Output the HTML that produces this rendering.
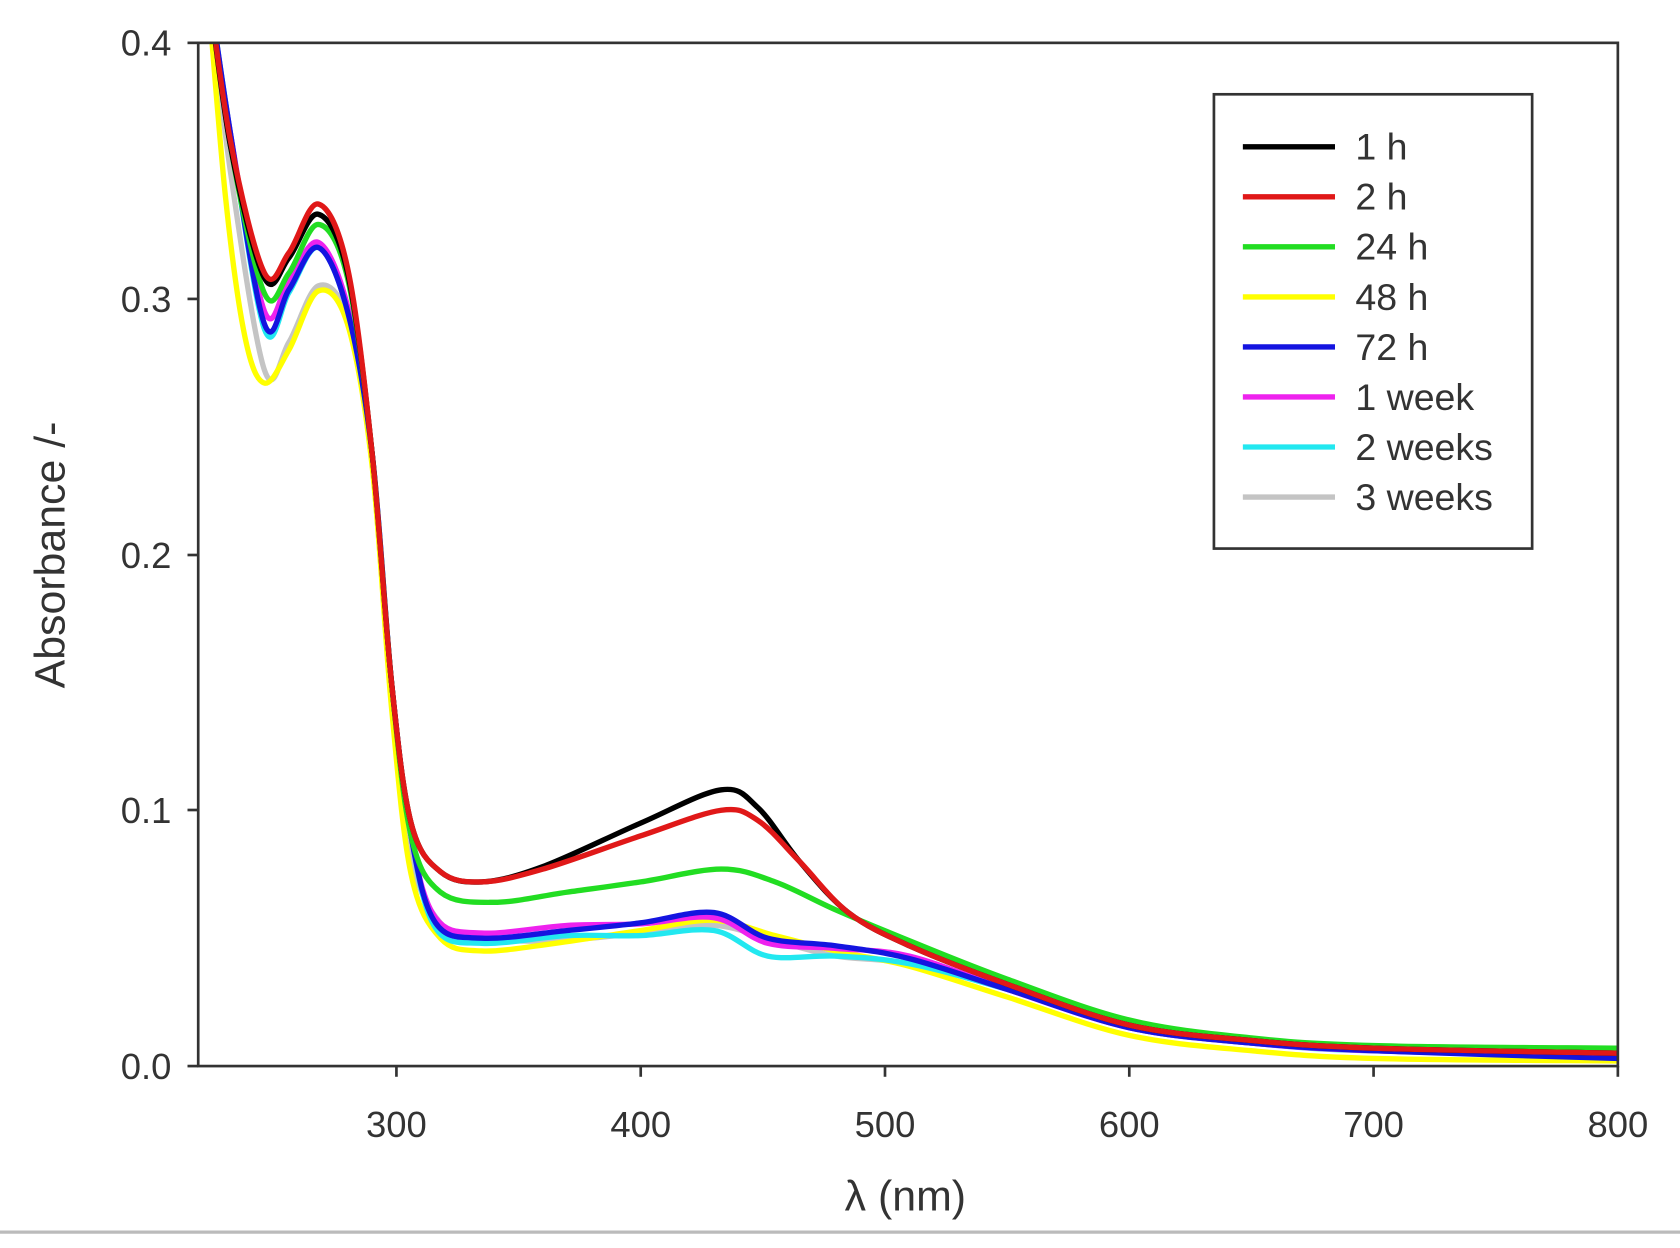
<!DOCTYPE html>
<html><head><meta charset="utf-8"><style>html,body{margin:0;padding:0;background:#fff}svg{display:block}</style></head>
<body>
<svg id="s" width="1680" height="1248" viewBox="0 0 1568 1164.8" preserveAspectRatio="none" xmlns="http://www.w3.org/2000/svg" font-family="Liberation Sans, sans-serif">
<rect width="1568" height="1165" fill="#fff"/>
<g id="curves" fill="none" stroke-width="5" stroke-linejoin="round" stroke-linecap="round"></g>
<rect x="185" y="40" width="1325" height="955" fill="none" stroke="#333" stroke-width="2.5"/>
<g stroke="#333" stroke-width="2.5">
<line x1="175" y1="40" x2="185" y2="40"/><line x1="175" y1="279" x2="185" y2="279"/><line x1="175" y1="518" x2="185" y2="518"/><line x1="175" y1="756" x2="185" y2="756"/><line x1="175" y1="995" x2="185" y2="995"/>
<line x1="370" y1="995" x2="370" y2="1005"/><line x1="598" y1="995" x2="598" y2="1005"/><line x1="826" y1="995" x2="826" y2="1005"/><line x1="1054" y1="995" x2="1054" y2="1005"/><line x1="1282" y1="995" x2="1282" y2="1005"/><line x1="1510" y1="995" x2="1510" y2="1005"/>
</g>
<g font-size="34" fill="#333" text-anchor="end">
<text x="160" y="52">0.4</text><text x="160" y="291">0.3</text><text x="160" y="530">0.2</text><text x="160" y="768">0.1</text><text x="160" y="1007">0.0</text>
</g>
<g font-size="34" fill="#333" text-anchor="middle">
<text x="370" y="1061">300</text><text x="598" y="1061">400</text><text x="826" y="1061">500</text><text x="1054" y="1061">600</text><text x="1282" y="1061">700</text><text x="1510" y="1061">800</text>
<text x="845" y="1130" font-size="40">λ (nm)</text>
<text transform="translate(60,518) rotate(-90)" font-size="40">Absorbance /-</text>
</g>
<line x1="0" y1="1150" x2="1568" y2="1150" stroke="#bbb" stroke-width="3"/>
<rect x="1133" y="88" width="297" height="424" fill="#fff" stroke="#333" stroke-width="2.5"/>
<g id="leg" font-size="35" fill="#333"></g>
</svg>
<script>
var X=n=>370+(n-300)*2.28, Y=a=>995-a*2387.5;
function mk(min,pk,v,p,p480,p510,tailEnd){
 return [[222,0.43],[232,0.365],[246,min],[256,min+(pk-min)*0.45],[268,pk],[280,pk-0.025],[290,0.24],[298,0.15],[306,0.09],[316,v+0.006],[335,v],[370,v+0.003],[400,v+(p-v)*0.6],[430,p],[452,p-0.01],[480,p480],[510,p510],[550,0.03],[600,0.015],[650,0.009],[700,0.006],[800,tailEnd]];
}
var S=[
["#000",[[222,0.43],[232,0.36],[246,0.308],[256,0.316],[268,0.333],[280,0.31],[290,0.24],[298,0.15],[306,0.095],[318,0.076],[335,0.072],[360,0.078],[400,0.095],[433,0.108],[448,0.101],[465,0.08],[485,0.06],[510,0.047],[550,0.032],[600,0.016],[650,0.01],[700,0.007],[800,0.005]]],
["#e01818",[[222,0.43],[232,0.362],[246,0.31],[256,0.318],[268,0.337],[280,0.312],[290,0.24],[298,0.15],[306,0.095],[318,0.076],[335,0.072],[360,0.077],[400,0.09],[433,0.100],[448,0.096],[465,0.08],[485,0.06],[510,0.047],[550,0.032],[600,0.016],[650,0.01],[700,0.007],[800,0.005]]],
["#22dd22",[[222,0.43],[232,0.36],[246,0.302],[256,0.31],[268,0.329],[280,0.308],[290,0.24],[298,0.15],[306,0.09],[318,0.068],[340,0.064],[370,0.068],[400,0.072],[433,0.077],[455,0.072],[480,0.061],[510,0.049],[550,0.034],[600,0.018],[650,0.011],[700,0.008],[800,0.007]]],
["#ffff00",[[222,0.43],[230,0.34],[238,0.285],[246,0.267],[256,0.28],[268,0.303],[280,0.29],[290,0.235],[298,0.14],[306,0.075],[318,0.05],[335,0.045],[365,0.048],[400,0.053],[430,0.057],[455,0.051],[480,0.045],[510,0.039],[550,0.027],[600,0.012],[650,0.006],[700,0.003],[800,0.002]]],
["#1414e0",mk(0.29,0.32,0.05,0.06,0.047,0.042,0.003)],
["#ee22ee",mk(0.295,0.322,0.052,0.058,0.046,0.043,0.004)],
["#22e8f0",mk(0.288,0.32,0.048,0.053,0.043,0.04,0.006)],
["#c4c4c4",[[222,0.43],[232,0.35],[246,0.272],[256,0.283],[268,0.305],[280,0.292],[290,0.236],[298,0.145],[306,0.082],[318,0.056],[335,0.05],[365,0.049],[400,0.052],[430,0.055],[455,0.049],[480,0.043],[510,0.04],[550,0.03],[600,0.015],[650,0.009],[700,0.007],[800,0.006]]]
];
function path(pts){
 var P=pts.map(p=>[X(p[0]),Y(p[1])]),d="M"+P[0][0]+","+P[0][1];
 for(var i=0;i<P.length-1;i++){var p0=P[i-1]||P[i],p1=P[i],p2=P[i+1],p3=P[i+2]||p2;
 d+=" C"+(p1[0]+(p2[0]-p0[0])/6)+","+(p1[1]+(p2[1]-p0[1])/6)+" "+(p2[0]-(p3[0]-p1[0])/6)+","+(p2[1]-(p3[1]-p1[1])/6)+" "+p2[0]+","+p2[1];}
 return d;}
var g=document.getElementById("curves"),ns="http://www.w3.org/2000/svg";
var cp=document.createElementNS(ns,"clipPath");cp.id="c";var r=document.createElementNS(ns,"rect");
r.setAttribute("x",185);r.setAttribute("y",40);r.setAttribute("width",1325);r.setAttribute("height",955);cp.appendChild(r);document.getElementById("s").appendChild(cp);
g.setAttribute("clip-path","url(#c)");
[7,3,6,5,4,2,0,1].forEach(i=>{var e=document.createElementNS(ns,"path");e.setAttribute("d",path(S[i][1]));e.setAttribute("stroke",S[i][0]);g.appendChild(e);});
var labs=["1 h","2 h","24 h","48 h","72 h","1 week","2 weeks","3 weeks"],L=document.getElementById("leg");
labs.forEach((t,i)=>{var y=137+i*46.7;var l=document.createElementNS(ns,"line");l.setAttribute("x1",1160);l.setAttribute("x2",1246);l.setAttribute("y1",y);l.setAttribute("y2",y);l.setAttribute("stroke",S[i][0]);l.setAttribute("stroke-width",5);L.appendChild(l);
var tx=document.createElementNS(ns,"text");tx.setAttribute("x",1265);tx.setAttribute("y",y+12);tx.textContent=t;L.appendChild(tx);});
</script>
</body></html>
